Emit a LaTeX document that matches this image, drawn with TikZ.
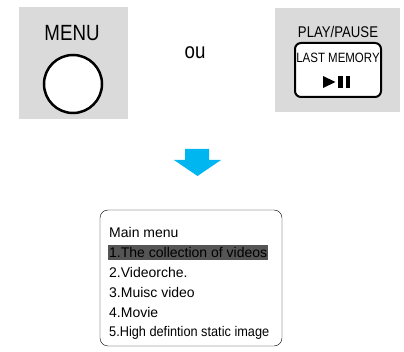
\documentclass[tikz,border=0pt]{standalone}
\usepackage{fontspec}
\setmainfont{Liberation Sans}
\newfontfamily\narrowfont{Liberation Sans}[FakeStretch=0.85]
\newfontfamily\squeezefont{Liberation Sans}[FakeStretch=0.91]
\usetikzlibrary{positioning}
\definecolor{panelgray}{RGB}{218,218,218}
\definecolor{arrowblue}{RGB}{0,182,240}
\definecolor{hlgray}{RGB}{85,85,85}

\begin{document}
\begin{tikzpicture}[x=1pt, y=-1pt,
  panel/.style={fill=panelgray},
  keylbl/.style={inner sep=0pt, font=\narrowfont\fontsize{22}{22}\selectfont},
  smalllbl/.style={inner sep=0pt, font=\narrowfont\fontsize{15.5}{15.5}\selectfont},
  menuline/.style={anchor=base west, inner sep=0pt, font=\fontsize{14}{14}\selectfont}
]
\useasboundingbox (0,0) rectangle (404,352);

% MENU key
\fill[panel] (19,7) rectangle (128,119);
\node[keylbl] (menulbl) at (72,33) {MENU};
\draw[line width=2.5pt, fill=white] (73,84) circle (29);

\node[keylbl] (ou) at (195,53) {ou};

% PLAY/PAUSE key
\fill[panel] (275,8) rectangle (400,112);
\node[smalllbl] (playlbl) at (338,32) {PLAY/PAUSE};
\draw[line width=2pt, fill=white, rounded corners=6pt] (295,43) rectangle (381,97);
\node[smalllbl, font=\narrowfont\fontsize{13.5}{13.5}\selectfont] (lastmem) at (338,58) {LAST MEMORY};
\fill (323,76) -- (335.5,82) -- (323,88) -- cycle;
\fill (338,76) rectangle (342.5,88);
\fill (345.5,76) rectangle (350,88);

% arrow down
\fill[arrowblue] (185,149) -- (209,149) -- (209,160) -- (221,160) -- (197.5,176)
  -- (174,160) -- (185,160) -- cycle;

% main menu screen
\draw[rounded corners=8pt] (100,210) rectangle (282,346);
\node[menuline] (mainmenu) at (109,238) {Main menu};
\node[menuline, fill=hlgray, inner xsep=1pt, inner ysep=0pt, text height=13pt, text depth=2.5pt] (item1) at (108,257.8) {1.The collection of videos};
\foreach \txt [count=\i from 2] in {2.Videorche., 3.Muisc video, 4.Movie}
  \node[menuline] (item\i) at (109,238+19.8*\i) {\txt};
\node[menuline, font=\squeezefont\fontsize{14}{14}\selectfont] (item5) at (109,337) {5.High defintion static image};
\end{tikzpicture}
\end{document}
